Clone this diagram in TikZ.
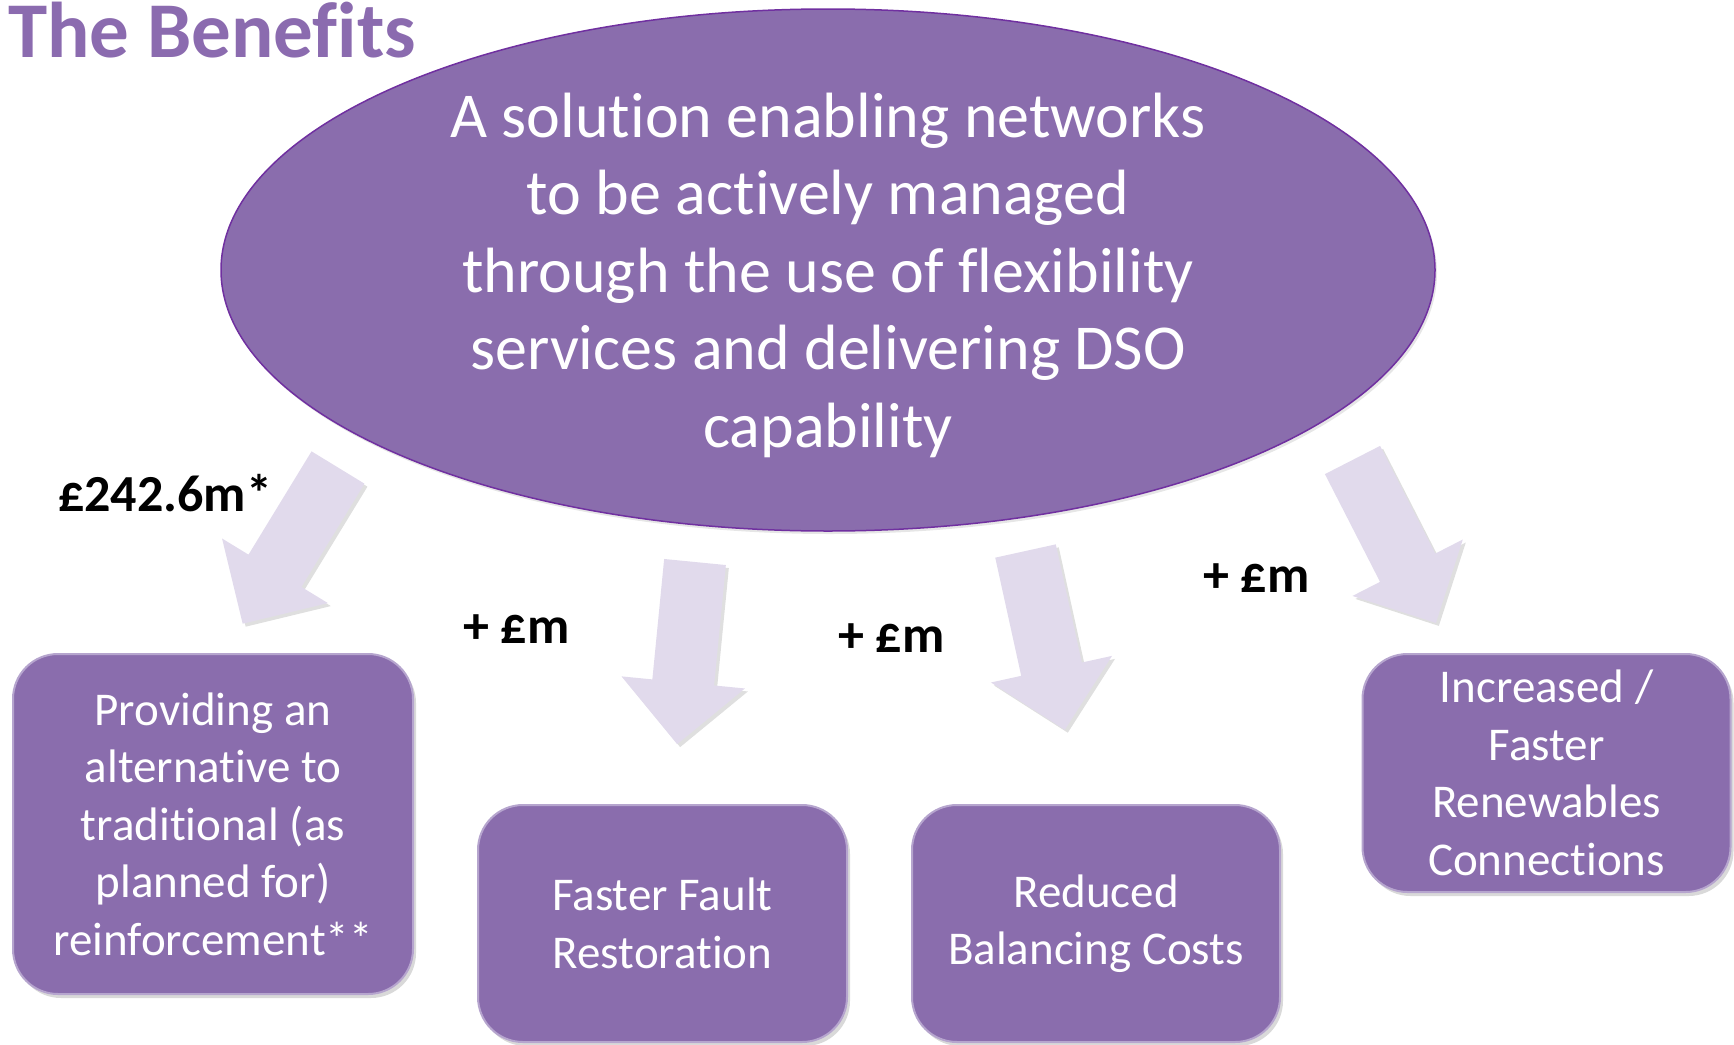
\documentclass[tikz,border=0pt]{standalone}
\usepackage{fontspec}
\setmainfont{Carlito}[Ligatures={NoCommon}]
\usepackage{tikz}
\usetikzlibrary{shapes.geometric,shadows}
\definecolor{benefitpurple}{HTML}{8A6DAD}
\definecolor{ellipseedge}{HTML}{7030A0}
\definecolor{boxedge}{HTML}{B6A5CE}
\definecolor{arrowfill}{HTML}{E1DAEC}
\definecolor{titlepurple}{HTML}{8B6BAF}

\tikzset{
  benefitbox/.style={rectangle, rounded corners=45pt, fill=benefitpurple, draw=boxedge,
    line width=2pt, text=white, align=center, inner sep=0pt,
    font=\fontsize{47}{57.5}\selectfont,
    drop shadow={shadow xshift=3pt, shadow yshift=-4pt, opacity=0.3}},
  moneylabel/.style={anchor=base west, inner sep=0pt, font=\bfseries\fontsize{52}{60}\selectfont},
  blockarrow/.pic={
    \fill[arrowfill, drop shadow={shadow xshift=3pt, shadow yshift=-3pt, opacity=0.25}]
      (0,-31) -- (121,-31) -- (121,-62) -- (183,0) -- (121,62) -- (121,31) -- (0,31) -- cycle;
  }
}

\begin{document}
\begin{tikzpicture}[x=1pt, y=-1pt]
\useasboundingbox (0,0) rectangle (1734,1044);

% title
\node[anchor=base west, inner sep=0pt, text=titlepurple,
  font=\bfseries\fontsize{79}{90}\selectfont] (title) at (8,57) {The Benefits};

% central idea
\node[ellipse, minimum width=1214pt, minimum height=522pt, inner sep=0pt,
  fill=benefitpurple, draw=ellipseedge, line width=1.5pt, text=white, align=center,
  font=\fontsize{64}{77.5}\selectfont,
  drop shadow={shadow xshift=2pt, shadow yshift=-3pt, opacity=0.2}] (solution) at (828,270)
  {A solution enabling networks\\ to be actively managed\\ through the use of flexibility\\
   services and delivering DSO\\ \smash{capability}};

% arrows
\pic (arrowA) at (338,467.5) [rotate=-121.4] {blockarrow};
\pic (arrowB) at (695,562) [rotate=-95.6] {blockarrow};
\pic (arrowC) at (1025.5,551) [rotate=-77.6] {blockarrow};
\pic (arrowD) at (1352.5,460) [rotate=-62.9] {blockarrow};

% values
\node[moneylabel] (valA) at (58,511) {£242.6m*};
\node[moneylabel] (valB) at (463,643) {+ £m};
\node[moneylabel] (valC) at (838,652) {+ £m};
\node[moneylabel] (valD) at (1203,592) {+ £m};

% benefits
\node[benefitbox, minimum width=400pt, minimum height=340pt] (reinforce) at (213,824)
  {Providing an\\ alternative to\\ traditional (as\\ planned for)\\ reinforcement**};
\node[benefitbox, minimum width=369pt, minimum height=237pt] (fault) at (662.5,923.5)
  {Faster Fault\\ Restoration};
\node[benefitbox, minimum width=368pt, minimum height=237pt] (balancing) at (1096,923.5)
  {Reduced\\ Balancing Costs};
\node[benefitbox, minimum width=368pt, minimum height=238pt] (renewables) at (1546.5,773)
  {Increased /\\ Faster\\ Renewables\\ Connections};
\end{tikzpicture}
\end{document}
